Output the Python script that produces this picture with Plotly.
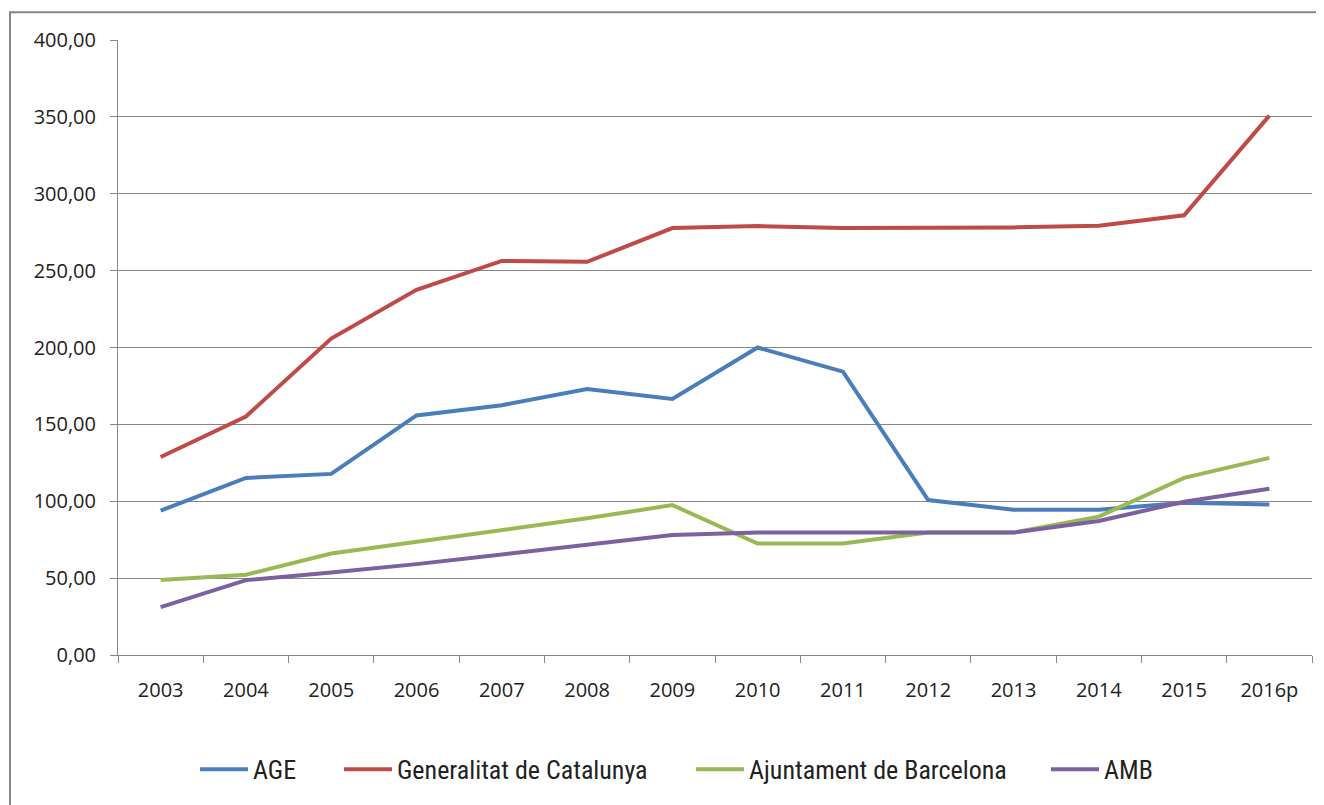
import plotly.graph_objects as go

years = ["2003", "2004", "2005", "2006", "2007", "2008", "2009", "2010",
         "2011", "2012", "2013", "2014", "2015", "2016p"]
age = [93.9, 115.2, 117.8, 155.8, 162.5, 173.0, 166.5, 200.0,
       184.3, 100.8, 94.5, 94.5, 99.0, 97.9]
generalitat = [128.8, 155.1, 205.8, 237.5, 256.3, 255.7, 277.7, 279.0,
               277.7, 277.7, 278.1, 279.2, 286.0, 350.8]
ajuntament = [48.7, 52.2, 66.0, 73.6, 80.7, 88.9, 97.5, 72.5,
              72.5, 79.6, 79.6, 90.0, 115.2, 128.2]
amb = [31.1, 48.7, 53.7, 59.1, 65.4, 71.6, 78.1, 79.6,
       79.6, 79.6, 79.6, 87.2, 99.7, 108.1]

series = [
    ("AGE", age, "#4A7EBB"),
    ("Generalitat de Catalunya", generalitat, "#BE4B48"),
    ("Ajuntament de Barcelona", ajuntament, "#98B954"),
    ("AMB", amb, "#7D60A0"),
]
legend_ids = ["legend", "legend2", "legend3", "legend4"]
legend_starts = [201, 345, 697, 1052]  # page x of each legend line start

OFF = 8  # page offset of the figure
W, H = 1324 - OFF, 805 - OFF
plot_l, plot_r, plot_t, plot_b = 118, 1312, 40, 658  # page pixels
ml = plot_l - OFF
mt = plot_t - OFF
mr = (OFF + W) - plot_r
mb = (OFF + H) - plot_b
pw, ph = plot_r - plot_l, plot_b - plot_t

def px(x):
    return (x - plot_l) / pw

def py(y):
    return (plot_b - y) / ph

fig = go.Figure()
for (name, vals, color), lid in zip(series, legend_ids):
    fig.add_trace(go.Scatter(x=years, y=vals, name=name, mode="lines", legend=lid,
                             line=dict(color=color, width=4)))

fig.add_shape(type="rect", xref="paper", yref="paper",
              x0=px(10), x1=px(1340), y0=py(820), y1=py(12),
              line=dict(color="#868686", width=2), fillcolor="rgba(0,0,0,0)",
              layer="below")

legend_font = dict(family="Liberation Sans Narrow, Arial Narrow, Roboto Condensed, sans-serif",
                   size=26, color="#222222")
legends = {}
for lid, xs in zip(legend_ids, legend_starts):
    legends[lid] = dict(orientation="h", x=px(xs - 6), xanchor="left", y=py(773),
                        yanchor="middle", font=legend_font, itemwidth=48,
                        bgcolor="rgba(0,0,0,0)")

fig.update_layout(
    width=W, height=H,
    margin=dict(l=ml, r=mr, t=mt, b=mb),
    paper_bgcolor="white", plot_bgcolor="white",
    separators=",.",
    font=dict(family="Open Sans, DejaVu Sans, sans-serif", size=20, color="#222222"),
    showlegend=True,
    xaxis=dict(type="category", tickson="boundaries", ticks="outside", ticklen=7,
               tickcolor="#868686", showline=True, linecolor="#868686", linewidth=1,
               showgrid=False, tickfont=dict(size=20), range=[-0.5, 13.5],
               ticklabelstandoff=17),
    yaxis=dict(range=[0, 400], dtick=50, tickformat=".2f", ticks="outside", ticklen=7,
               tickcolor="#868686", showline=True, linecolor="#868686", linewidth=1,
               showgrid=True, gridcolor="#868686", gridwidth=1, zeroline=False,
               tickfont=dict(size=20), ticklabelstandoff=10),
    **legends,
)

fig.write_html("out.html")
